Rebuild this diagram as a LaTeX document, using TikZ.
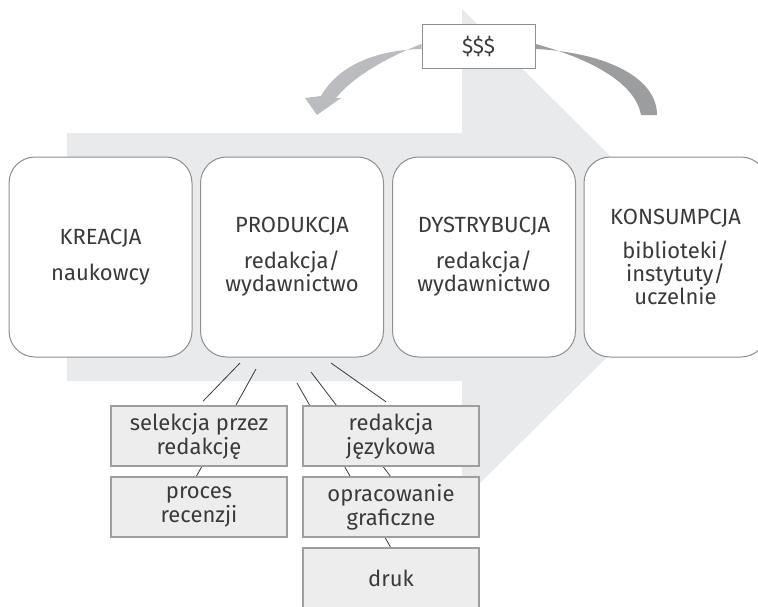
\documentclass[tikz,border=0pt]{standalone}
\usepackage{fontspec}
\setmainfont{Fira Sans}
\definecolor{bgarrow}{HTML}{E9EAEC}
\definecolor{boxline}{HTML}{8F8F8F}
\definecolor{subfill}{HTML}{EDEDEE}
\definecolor{subline}{HTML}{9E9E9E}
\definecolor{txt}{HTML}{3A3A3A}
\definecolor{arrowlight}{HTML}{BBBCBF}
\definecolor{arrowdark}{HTML}{9C9D9F}
\begin{document}
\begin{tikzpicture}[x=1pt,y=-1pt,
  bigbox/.style={draw=boxline,line width=1pt,fill=white,rounded corners=26pt,
    minimum width=183pt,minimum height=200pt,align=center,text=txt,
    font=\fontsize{22}{23}\selectfont,inner sep=0pt},
  subbox/.style={draw=subline,line width=1.3pt,fill=subfill,
    minimum width=176pt,minimum height=60pt,align=center,text=txt,
    font=\fontsize{22}{24}\selectfont,inner sep=0pt},
  conn/.style={draw=txt,line width=0.8pt},
  moneybox/.style={draw=boxline,line width=1pt,fill=white,minimum width=113pt,
    minimum height=44pt,text=txt,font=\fontsize{21}{22}\selectfont,inner sep=0pt}]
\useasboundingbox (0,0) rectangle (758,606);
\clip (0,0) rectangle (758,606);
% background arrow
\fill[bgarrow] (67,133) -- (462,133) -- (462,9) -- (710,255) -- (462,501) -- (462,381) -- (67,381) -- cycle;
% connector start points
\coordinate (s1) at (240,363);
\coordinate (s2) at (256,369);
\coordinate (s3) at (297,383);
\coordinate (s4) at (311,372);
\coordinate (s5) at (331,363);
% sub box positions and their top-centre points
\coordinate (psel) at (199,436);
\coordinate (pproc) at (199,507);
\coordinate (pred) at (391,436);
\coordinate (popr) at (391,507);
\coordinate (pdruk) at (391,578);
\coordinate (tproc) at (196,477);
\coordinate (topr) at (391,477);
\coordinate (tdruk) at (391,548);
% connectors that run behind the sub boxes
\draw[conn] (s2) -- (tproc);
\draw[conn] (s3) -- (tdruk);
\draw[conn] (s4) -- (topr);
% sub boxes
\node[subbox] (sel) at (psel) {selekcja przez\\redakcję};
\node[subbox] (proc) at (pproc) {proces\\recenzji};
\node[subbox] (red) at (pred) {redakcja\\językowa};
\node[subbox] (opr) at (popr) {opracowanie\\graficzne};
\node[subbox] (druk) at (pdruk) {druk};
% connectors ending on the first row
\draw[conn,shorten >=6pt] (s1) -- (sel.north);
\draw[conn,shorten >=6pt] (s5) -- (red.north);
% main boxes
\node[bigbox] (kre) at (100.5,257) {KREACJA\\[13pt]naukowcy};
\node[bigbox] (prod) at (292,257) {PRODUKCJA\\[13pt]redakcja/\\wydawnictwo};
\node[bigbox] (dys) at (484,257) {DYSTRYBUCJA\\[13pt]redakcja/\\wydawnictwo};
\node[bigbox] (kon) at (675.5,257) {KONSUMPCJA\\[11pt]biblioteki/\\instytuty/\\uczelnie};
% money flow arrows
\node[moneybox] (money) at (478.5,46) {\$\$\$};
\fill[arrowdark] ([yshift=-3pt]money.east) .. controls (600,52) and (657,75) .. (657,115)
  -- (641,115) .. controls (636,85) and (595,60) .. ([yshift=2pt]money.east) -- cycle;
\fill[arrowlight] ([yshift=-3pt]money.west) .. controls (375,50) and (338,66) .. (321,96)
  -- (305,98) -- (317,115) -- (341,98) -- (336,98)
  .. controls (352,78) and (385,58) .. ([yshift=2pt]money.west) -- cycle;
\node[moneybox] at (money) {\$\$\$};
\end{tikzpicture}
\end{document}
